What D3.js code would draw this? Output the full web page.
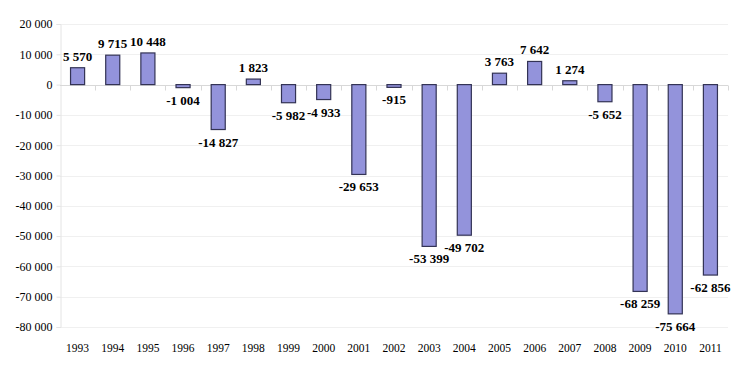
<!DOCTYPE html>
<html>
<head>
<meta charset="utf-8">
<script src="https://cdn.jsdelivr.net/npm/d3@7"></script>
<style>
  body { margin: 0; background: #fff; }
  svg { display: block; font-family: 'Liberation Serif', 'Times New Roman', Times, serif; }
</style>
</head>
<body>
<script>
'use strict'

const years = ['1993','1994','1995','1996','1997','1998','1999','2000','2001','2002',
               '2003','2004','2005','2006','2007','2008','2009','2010','2011']
const values = [5570, 9715, 10448, -1004, -14827, 1823, -5982, -4933, -29653, -915,
                -53399, -49702, 3763, 7642, 1274, -5652, -68259, -75664, -62856]
const yTicks = [20000, 10000, 0, -10000, -20000, -30000, -40000, -50000, -60000, -70000, -80000]

const width = 740, height = 370
const margin = {top: 24, right: 12, bottom: 43, left: 60}

const fmt = v => {
  const s = d3.format(',')(Math.abs(v)).replace(/,/g, ' ')
  return (v < 0 ? '-' : '') + s
}

const svg = d3.select('body').append('svg')
  .attr('width', width)
  .attr('height', height)

const x = d3.scaleBand()
  .domain(years)
  .range([margin.left, width - margin.right])
  .paddingInner(0.6)
  .paddingOuter(0.3)

const y = d3.scaleLinear()
  .domain([-80000, 20000])
  .range([height - margin.bottom, margin.top])

// gridlines
svg.append('g')
  .selectAll('line')
  .data(yTicks)
  .enter()
  .append('line')
  .attr('x1', margin.left)
  .attr('x2', width - margin.right)
  .attr('y1', d => Math.round(y(d)) + 0.5)
  .attr('y2', d => Math.round(y(d)) + 0.5)
  .attr('stroke', '#f0f0f0')
  .attr('stroke-width', 1)

// left axis
const yAxis = svg.append('g')
  .attr('transform', 'translate(' + (margin.left + 0.5) + ',0)')
  .call(d3.axisLeft(y).tickValues(yTicks).tickFormat(fmt).tickSize(4).tickPadding(4))
yAxis.attr('font-family', null)
yAxis.select('.domain').attr('stroke', '#e4e4e4')
yAxis.selectAll('.tick line').attr('stroke', '#e4e4e4')
yAxis.selectAll('text')
  .style('font-size', '12px')
  .attr('fill', '#000')

// zero line with category ticks
const step = x.step()
const bounds = d3.range(years.length + 1).map(i => margin.left + i * step)
const y0 = Math.round(y(0)) + 0.5
svg.append('line')
  .attr('x1', margin.left)
  .attr('x2', width - margin.right)
  .attr('y1', y0)
  .attr('y2', y0)
  .attr('stroke', '#d8d8d8')
svg.append('g')
  .selectAll('line')
  .data(bounds.slice(1))
  .enter()
  .append('line')
  .attr('x1', d => Math.round(d) + 0.5)
  .attr('x2', d => Math.round(d) + 0.5)
  .attr('y1', y0)
  .attr('y2', y0 + 5)
  .attr('stroke', '#d8d8d8')

// bars
svg.append('g')
  .selectAll('rect')
  .data(values)
  .enter()
  .append('rect')
  .attr('x', (d, i) => x(years[i]))
  .attr('width', x.bandwidth())
  .attr('y', d => y(Math.max(0, d)))
  .attr('height', d => Math.abs(y(d) - y(0)))
  .attr('fill', '#9393db')
  .attr('stroke', '#333355')
  .attr('stroke-width', 1.2)

// value labels
svg.append('g')
  .selectAll('text')
  .data(values)
  .enter()
  .append('text')
  .attr('x', (d, i) => x(years[i]) + x.bandwidth() / 2)
  .attr('y', d => d >= 0 ? y(d) - 7 : y(d) + 17)
  .attr('text-anchor', 'middle')
  .style('font-weight', 'bold')
  .style('font-size', '13px')
  .text(d => fmt(d))

// year labels
svg.append('g')
  .selectAll('text')
  .data(years)
  .enter()
  .append('text')
  .attr('x', d => x(d) + x.bandwidth() / 2)
  .attr('y', height - 18)
  .attr('text-anchor', 'middle')
  .style('font-size', '11.5px')
  .text(d => d)
</script>
</body>
</html>
